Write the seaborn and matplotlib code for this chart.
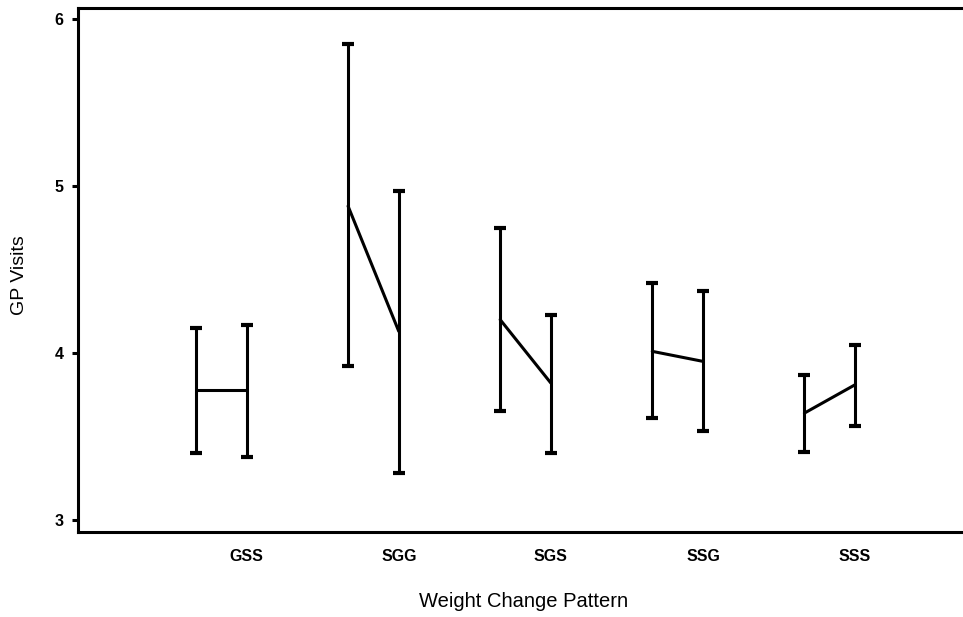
import numpy as np
import pandas as pd
import matplotlib
matplotlib.use('Agg')
import matplotlib.pyplot as plt
import seaborn as sns

# weight change patterns and GP visit means with their intervals
patterns = ['GSS', 'SGG', 'SGS', 'SSG', 'SSS']
mean_first = [3.78, 4.88, 4.20, 4.01, 3.64]
lo_first = [3.40, 3.92, 3.65, 3.61, 3.41]
hi_first = [4.15, 5.85, 4.75, 4.42, 3.87]
mean_second = [3.78, 4.13, 3.82, 3.95, 3.81]
lo_second = [3.38, 3.28, 3.40, 3.53, 3.56]
hi_second = [4.17, 4.97, 4.23, 4.37, 4.05]

sns.set_style('ticks')
plt.rcParams['font.family'] = ['Liberation Sans', 'DejaVu Sans']
plt.rcParams['text.color'] = 'black'
plt.rcParams['axes.labelcolor'] = 'black'
plt.rcParams['xtick.color'] = 'black'
plt.rcParams['ytick.color'] = 'black'

pos = np.arange(len(patterns))
offset = 1 / 3

df = pd.DataFrame({
    'pattern': patterns * 2,
    'x': np.concatenate([pos - offset, pos]),
    'mean': mean_first + mean_second,
    'lo': lo_first + lo_second,
    'hi': hi_first + hi_second,
})

fig = plt.figure(figsize=(9.63, 6.17), dpi=100)
ax = fig.add_axes([0.0805, 0.1378, 0.93, 0.849])

# lines joining the two means inside each pattern
sns.lineplot(data=df, x='x', y='mean', units='pattern', estimator=None,
             color='black', linewidth=2.2, ax=ax, legend=False)

# the interval bars
yerr = np.vstack([df['mean'] - df['lo'], df['hi'] - df['mean']])
ax.errorbar(df['x'], df['mean'], yerr=yerr, fmt='none', ecolor='black',
            elinewidth=2.2, capsize=4, capthick=3)

ax.set_xlim(-1.112, 4.776)
ax.set_ylim(2.928, 6.066)
ax.set_yticks([3, 4, 5, 6])
ax.set_xticks(pos)
ax.set_xticklabels(patterns, fontsize=11.5, fontweight='bold')
for lab in ax.get_yticklabels():
    lab.set_fontsize(11.5)
    lab.set_fontweight('bold')

ax.tick_params(axis='y', length=4, width=2.2, pad=6)
ax.tick_params(axis='x', length=0, pad=12)
for side in ['left', 'bottom', 'top', 'right']:
    ax.spines[side].set_linewidth(2.2)
    ax.spines[side].set_color('black')

ax.set_xlabel('Weight Change Pattern', fontsize=14.5)
ax.set_ylabel('GP Visits', fontsize=14)
ax.xaxis.set_label_coords(0.4985, -0.115)
ax.yaxis.set_label_coords(-0.055, 0.49)

fig.savefig('out.png', dpi=100)
